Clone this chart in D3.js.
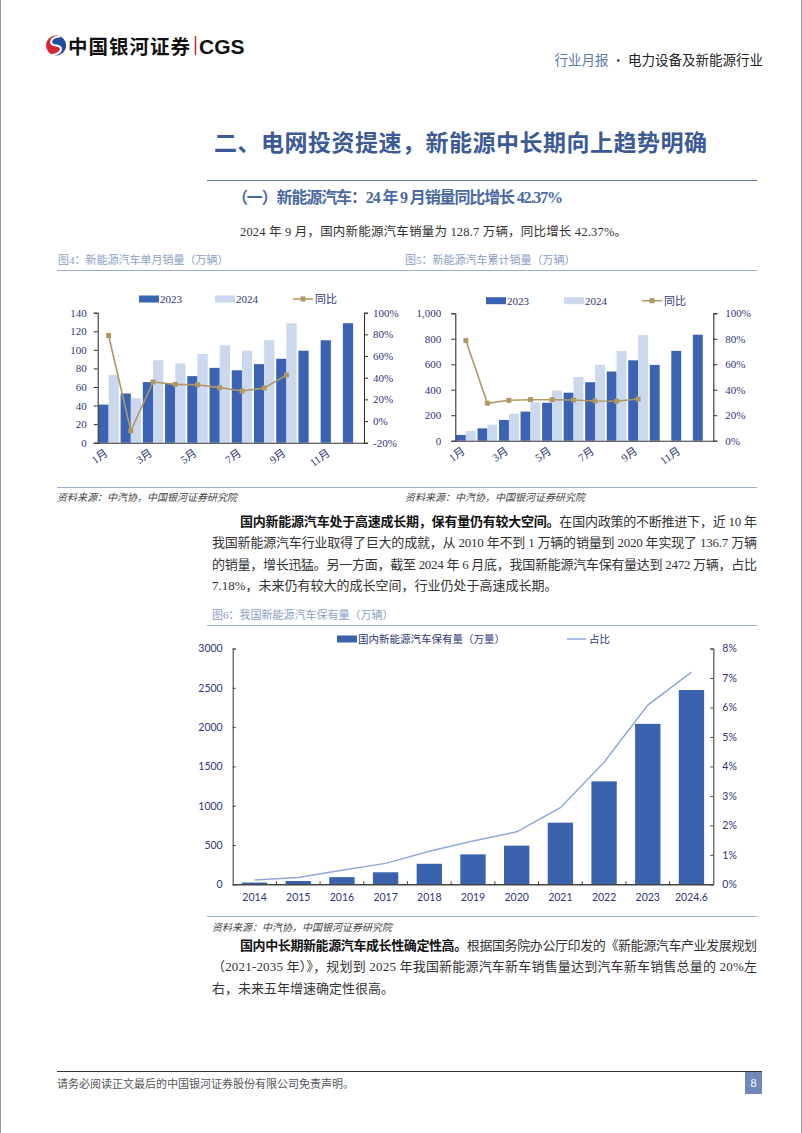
<!DOCTYPE html>
<html><head><meta charset="utf-8">
<script src="https://cdn.jsdelivr.net/npm/d3@7"></script>
<style>body{margin:0;background:#fff} svg{display:block}</style>
</head><body>
<svg id="page" width="802" height="1133"></svg>
<script>
// ---------- DATA ----------
const months = ["1月","2月","3月","4月","5月","6月","7月","8月","9月","10月","11月","12月"];
const monthlyLabels = ["1月","3月","5月","7月","9月","11月"];
const monthly2023 = [41, 53, 65.3, 63.6, 71.7, 80.6, 78.0, 84.6, 90.4, 99.1, 110.3, 128.7];
const monthly2024 = [73, 48, 88.8, 85.4, 95.6, 104.9, 99.1, 110.3, 128.7];
const monthlyYoY = [79, -9, 36, 33.8, 33.5, 30.8, 27.7, 30.5, 42.4];
const monthlyLeftTicks = [0, 20, 40, 60, 80, 100, 120, 140];
const monthlyRightTicks = [-20, 0, 20, 40, 60, 80, 100];

const cum2023 = [45, 97, 163, 228, 298, 377, 459, 543, 631, 595, 705, 832];
const cum2024 = [76, 126, 212, 301, 393, 500, 595, 705, 830];
const cumYoY = [78.6, 29.4, 31.7, 32.2, 32.2, 32.0, 31.2, 31.0, 32.7];
const cumLeftTicks = [0, 200, 400, 600, 800, 1000];
const cumRightTicks = [0, 20, 40, 60, 80, 100];

const stockYears = ["2014","2015","2016","2017","2018","2019","2020","2021","2022","2023","2024.6"];
const stockValues = [22, 42, 91, 153, 261, 381, 492, 784, 1310, 2041, 2472];
const stockShare = [0.15, 0.23, 0.48, 0.71, 1.12, 1.47, 1.78, 2.6, 4.14, 6.08, 7.2];
const stockLeftTicks = [0, 500, 1000, 1500, 2000, 2500, 3000];
const stockRightTicks = [0, 1, 2, 3, 4, 5, 6, 7, 8];

// ---------- STYLE ----------
const C23 = "#3a63b3", C24 = "#ccd8ee", CYOY = "#b19863", NAVY = "#30357a";
const CJK = "'Noto Sans CJK SC', sans-serif";
const SERIF = "'Liberation Serif', 'Noto Sans CJK SC', serif";
const svg = d3.select("#page");

// page borders
svg.append("line").attr("x1",0.5).attr("x2",0.5).attr("y1",0).attr("y2",1133).attr("stroke","#999");
svg.append("line").attr("x1",801.5).attr("x2",801.5).attr("y1",0).attr("y2",1133).attr("stroke","#999");

// ---------- HEADER ----------
const logo = svg.append("g");
logo.append("circle").attr("cx",56).attr("cy",45.5).attr("r",10).attr("fill","#d7262e");
logo.append("path").attr("d","M56,35.5 A10,10 0 0 1 56,55.5 C62,52 60,46 56,45.5 C52,45 50,39 56,35.5Z").attr("fill","#1f4e9c");
logo.append("path").attr("d","M60,36.5 C50,37 48,45 56,45.5 C64,46 62,54 52,55").attr("fill","none").attr("stroke","#fff").attr("stroke-width",2.2);
svg.append("text").attr("x",68).attr("y",53.5).attr("font-family",CJK).attr("font-weight",700)
  .attr("font-size",19.5).attr("fill","#111").attr("textLength",122).text("中国银河证券");
svg.append("line").attr("x1",195.5).attr("x2",195.5).attr("y1",36).attr("y2",55).attr("stroke","#d7262e").attr("stroke-width",1.5);
svg.append("text").attr("x",199).attr("y",53.5).attr("font-family","'Liberation Sans', Arial, sans-serif")
  .attr("font-weight",700).attr("font-size",21).attr("fill","#111").text("CGS");
const hdr = svg.append("text").attr("x",763).attr("y",64.5).attr("text-anchor","end")
  .attr("font-family",CJK).attr("font-size",13.5);
hdr.append("tspan").attr("fill","#5b79ad").text("行业月报");
hdr.append("tspan").attr("fill","#555").text(" · ");
hdr.append("tspan").attr("fill","#222").text("电力设备及新能源行业");

// ---------- TITLES ----------
svg.append("text").attr("x",214).attr("y",151).attr("font-family",CJK).attr("font-weight",700)
  .attr("font-size",23).attr("fill","#3c5a96").attr("textLength",493).attr("lengthAdjust","spacing")
  .text("二、电网投资提速，新能源中长期向上趋势明确");
svg.append("line").attr("x1",207).attr("x2",757).attr("y1",180.5).attr("y2",180.5).attr("stroke","#5a76a8").attr("stroke-width",1);
svg.append("text").attr("x",232).attr("y",203).attr("font-family",SERIF).attr("font-weight",700)
  .attr("font-size",16).attr("fill","#4a69a3").attr("textLength",331).attr("lengthAdjust","spacing")
  .text("（一）新能源汽车：24 年 9 月销量同比增长 42.37%");
svg.append("text").attr("x",240).attr("y",236).attr("font-family",SERIF)
  .attr("font-size",12.5).attr("fill","#333").attr("textLength",387).attr("lengthAdjust","spacing")
  .text("2024 年 9 月，国内新能源汽车销量为 128.7 万辆，同比增长 42.37%。");

// chart titles
function chartTitle(x, y, x1, x2, txt){
  svg.append("text").attr("x",x).attr("y",y).attr("font-family",SERIF).attr("font-size",11)
    .attr("fill","#8ba0c6").text(txt);
  svg.append("line").attr("x1",x1).attr("x2",x2).attr("y1",y+6.5).attr("y2",y+6.5)
    .attr("stroke","#9aaed2").attr("stroke-width",1.2);
}
chartTitle(58, 264, 57, 400, "图4：新能源汽车单月销量（万辆）");
chartTitle(405, 264, 400, 757, "图5：新能源汽车累计销量（万辆）");

// ---------- BAR + LINE CHART (fig 4 / 5) ----------
function barLine(cfg){
  const g = svg.append("g");
  const x = d3.scaleBand().domain(months).range([cfg.x0, cfg.x1]).paddingInner(0.08).paddingOuter(0.03);
  const xs = d3.scaleBand().domain(["a","b"]).range([0, x.bandwidth()]);
  const yL = d3.scaleLinear().domain([0, cfg.leftMax]).range([cfg.yBase, cfg.yTop]);
  const yR = d3.scaleLinear().domain([cfg.rMin, cfg.rMax]).range([cfg.yBase, cfg.yTop]);

  g.selectAll(".b23").data(cfg.d23).join("rect")
    .attr("x",(d,i)=>x(months[i])+xs("a")).attr("width",xs.bandwidth())
    .attr("y",d=>yL(d)).attr("height",d=>yL(0)-yL(d)).attr("fill",C23);
  g.selectAll(".b24").data(cfg.d24).join("rect")
    .attr("x",(d,i)=>x(months[i])+xs("b")).attr("width",xs.bandwidth())
    .attr("y",d=>yL(d)).attr("height",d=>yL(0)-yL(d)).attr("fill",C24);

  const line = d3.line().x((d,i)=>x(months[i])+x.bandwidth()/2).y(d=>yR(d));
  g.append("path").datum(cfg.yoy).attr("d",line).attr("fill","none").attr("stroke",CYOY).attr("stroke-width",1.6);
  g.selectAll(".mk").data(cfg.yoy).join("rect")
    .attr("x",(d,i)=>x(months[i])+x.bandwidth()/2-2.5).attr("y",d=>yR(d)-2.5)
    .attr("width",5).attr("height",5).attr("fill",CYOY);

  const axL = g.append("g").attr("transform",`translate(${cfg.x0},0)`)
    .call(d3.axisLeft(yL).tickValues(cfg.lTicks).tickSize(4).tickPadding(cfg.lPad).tickFormat(cfg.lFmt));
  const axR = g.append("g").attr("transform",`translate(${cfg.x1},0)`)
    .call(d3.axisRight(yR).tickValues(cfg.rTicks).tickSize(4).tickPadding(cfg.rPad).tickFormat(d=>d+"%"));
  const axB = g.append("g").attr("transform",`translate(0,${cfg.yBase})`)
    .call(d3.axisBottom(x).tickValues(monthlyLabels).tickSize(0).tickPadding(0));
  [axL, axR, axB].forEach(a=>{
    a.select(".domain").attr("stroke","#333").attr("stroke-width",1.1);
    a.selectAll(".tick line").attr("stroke","#333");
    a.selectAll("text").attr("font-family",SERIF).attr("font-size",11).attr("fill",NAVY);
  });
  axB.select(".domain").attr("d",`M${cfg.x0},0.5H${cfg.x1}`);
  axB.selectAll(".tick text").attr("text-anchor","end").attr("dy",0)
    .attr("transform","translate(0,12) rotate(-35)").attr("y",0).attr("x",0);

  // legend
  const ly = cfg.legendY;
  g.append("rect").attr("x",cfg.lx[0]).attr("y",ly-3.5).attr("width",20).attr("height",7).attr("fill",C23);
  g.append("text").attr("x",cfg.lx[0]+21).attr("y",ly+4).attr("font-family",SERIF).attr("font-size",11).attr("fill",NAVY).text("2023");
  g.append("rect").attr("x",cfg.lx[1]).attr("y",ly-3.5).attr("width",20).attr("height",7).attr("fill",C24);
  g.append("text").attr("x",cfg.lx[1]+21).attr("y",ly+4).attr("font-family",SERIF).attr("font-size",11).attr("fill",NAVY).text("2024");
  g.append("line").attr("x1",cfg.lx[2]).attr("x2",cfg.lx[2]+20).attr("y1",ly).attr("y2",ly).attr("stroke",CYOY).attr("stroke-width",1.6);
  g.append("rect").attr("x",cfg.lx[2]+7.5).attr("y",ly-2.5).attr("width",5).attr("height",5).attr("fill",CYOY);
  g.append("text").attr("x",cfg.lx[2]+22).attr("y",ly+4).attr("font-family",CJK).attr("font-size",11).attr("fill",NAVY).text("同比");
}

barLine({x0:97.7, x1:364, yBase:442.7, yTop:312.7, leftMax:140, rMin:-20, rMax:100,
  d23:monthly2023, d24:monthly2024, yoy:monthlyYoY, lTicks:monthlyLeftTicks, rTicks:monthlyRightTicks,
  lFmt:d=>d, lPad:7, rPad:5, legendY:299, lx:[139,215,293]});
barLine({x0:455.3, x1:713.3, yBase:440.7, yTop:313.3, leftMax:1000, rMin:0, rMax:100,
  d23:cum2023, d24:cum2024, yoy:cumYoY, lTicks:cumLeftTicks, rTicks:cumRightTicks,
  lFmt:d3.format(","), lPad:10, rPad:8, legendY:300.7, lx:[486,564,642]});

// sources
svg.append("line").attr("x1",57).attr("x2",757).attr("y1",487.5).attr("y2",487.5).attr("stroke","#9aaed2").attr("stroke-width",1.2);
function source(x,y){
  svg.append("text").attr("x",x).attr("y",y).attr("font-family",SERIF).attr("font-style","italic")
    .attr("font-size",10).attr("fill","#444").text("资料来源：中汽协，中国银河证券研究院");
}
source(57, 501); source(405, 501);

// ---------- PARAGRAPH 1 ----------
function para(lines, y0, lh){
  lines.forEach((ln,i)=>{
    const t = svg.append("text").attr("x",ln.x).attr("y",y0+i*lh).attr("font-family",SERIF)
      .attr("font-size",13).attr("fill","#333");
    if(ln.w){ t.attr("textLength",ln.w).attr("lengthAdjust","spacing"); }
    if(ln.bold){ t.append("tspan").attr("font-weight",700).attr("fill","#111").text(ln.bold); }
    t.append("tspan").text(ln.t);
  });
}
para([
  {x:240, w:517, bold:"国内新能源汽车处于高速成长期，保有量仍有较大空间。", t:"在国内政策的不断推进下，近 10 年"},
  {x:212, w:545, t:"我国新能源汽车行业取得了巨大的成就，从 2010 年不到 1 万辆的销量到 2020 年实现了 136.7 万辆"},
  {x:212, w:545, t:"的销量，增长迅猛。另一方面，截至 2024 年 6 月底，我国新能源汽车保有量达到 2472 万辆，占比"},
  {x:212, t:"7.18%，未来仍有较大的成长空间，行业仍处于高速成长期。"}
], 526, 21.4);

// ---------- FIG 6 ----------
chartTitle(212, 619, 207, 757, "图6：我国新能源汽车保有量（万辆）");
(function(){
  const x0=232.7, x1=713.3, yB=884.3, yT=648.5;
  const g = svg.append("g");
  const x = d3.scaleBand().domain(stockYears).range([x0,x1]).paddingInner(0.42).paddingOuter(0.21);
  const yL = d3.scaleLinear().domain([0,3000]).range([yB,yT]);
  const yR = d3.scaleLinear().domain([0,8]).range([yB,yT]);
  g.selectAll(".sb").data(stockValues).join("rect")
    .attr("x",(d,i)=>x(stockYears[i])).attr("width",x.bandwidth())
    .attr("y",d=>yL(d)).attr("height",d=>yL(0)-yL(d)).attr("fill","#3b63ad");
  const line = d3.line().x((d,i)=>x(stockYears[i])+x.bandwidth()/2).y(d=>yR(d));
  g.append("path").datum(stockShare).attr("d",line).attr("fill","none").attr("stroke","#8fa9da").attr("stroke-width",1.5);

  const font = "Lato, 'Open Sans', sans-serif";
  const axL = g.append("g").attr("transform",`translate(${x0},0)`)
    .call(d3.axisRight(yL).tickValues(stockLeftTicks).tickSize(3).tickFormat(d=>d));
  axL.selectAll(".tick text").attr("x",-10).attr("text-anchor","end");
  const axR = g.append("g").attr("transform",`translate(${x1},0)`)
    .call(d3.axisLeft(yR).tickValues(stockRightTicks).tickSize(3).tickFormat(d=>d+"%"));
  axR.selectAll(".tick text").attr("x",9).attr("text-anchor","start");
  const axB = g.append("g").attr("transform",`translate(0,${yB})`)
    .call(d3.axisBottom(x).tickSize(0).tickPadding(9));
  // boundary ticks (inward)
  const bounds = stockYears.slice(1).map(s=>x(s)-x.step()*x.paddingInner()/2);
  axB.selectAll(".btick").data(bounds).join("line").attr("x1",d=>d).attr("x2",d=>d)
    .attr("y1",0).attr("y2",-3).attr("stroke","#444");
  [axL, axR, axB].forEach(a=>{
    a.select(".domain").attr("stroke","#444").attr("stroke-width",1.1);
    a.selectAll(".tick line").attr("stroke","#444");
    a.selectAll("text").attr("font-family",font).attr("font-size",10.5).attr("fill",NAVY);
  });
  axB.select(".domain").attr("stroke-width",1.6).attr("d",`M${x0},0.5H${x1}`);

  // legend
  g.append("rect").attr("x",337).attr("y",635.5).attr("width",20).attr("height",7).attr("fill","#3b63ad");
  g.append("text").attr("x",358).attr("y",643).attr("font-family",CJK).attr("font-size",10.5).attr("fill",NAVY)
    .text("国内新能源汽车保有量（万量）");
  g.append("line").attr("x1",567).attr("x2",586).attr("y1",639).attr("y2",639).attr("stroke","#8fa9da").attr("stroke-width",1.5);
  g.append("text").attr("x",589).attr("y",643).attr("font-family",CJK).attr("font-size",10.5).attr("fill",NAVY).text("占比");
})();
svg.append("line").attr("x1",207).attr("x2",757).attr("y1",916.5).attr("y2",916.5).attr("stroke","#9aaed2").attr("stroke-width",1.2);
source(212, 931);

// ---------- PARAGRAPH 2 ----------
para([
  {x:240, w:517, bold:"国内中长期新能源汽车成长性确定性高。", t:"根据国务院办公厅印发的《新能源汽车产业发展规划"},
  {x:212, w:545, t:"（2021-2035 年）》，规划到 2025 年我国新能源汽车新车销售量达到汽车新车销售总量的 20%左"},
  {x:212, t:"右，未来五年增速确定性很高。"}
], 950, 21.4);

// ---------- FOOTER ----------
svg.append("line").attr("x1",57).attr("x2",762).attr("y1",1071.5).attr("y2",1071.5).attr("stroke","#333").attr("stroke-width",1);
svg.append("text").attr("x",57).attr("y",1088).attr("font-family",SERIF).attr("font-size",11).attr("fill","#555")
  .text("请务必阅读正文最后的中国银河证券股份有限公司免责声明。");
svg.append("rect").attr("x",745).attr("y",1072).attr("width",17).attr("height",22).attr("fill","#7189b9");
svg.append("text").attr("x",753.5).attr("y",1087).attr("text-anchor","middle").attr("font-family",SERIF)
  .attr("font-size",12).attr("fill","#fff").text("8");
</script>
</body></html>
